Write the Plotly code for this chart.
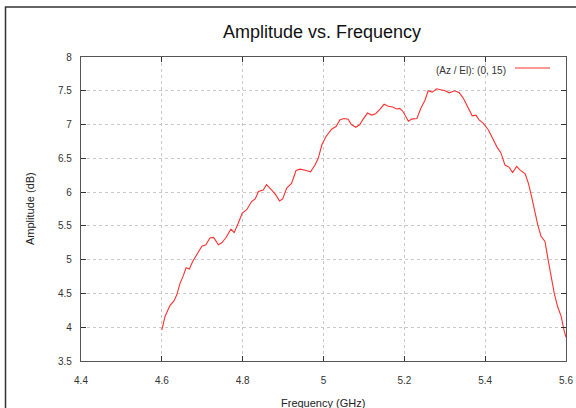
import plotly.graph_objects as go

freq_ghz = [4.600, 4.608, 4.620, 4.630, 4.637, 4.645, 4.653, 4.660, 4.668, 4.676,
            4.686, 4.699, 4.709, 4.719, 4.728, 4.740, 4.748, 4.758, 4.771, 4.779,
            4.789, 4.799, 4.810, 4.822, 4.831, 4.839, 4.851, 4.859, 4.872, 4.882,
            4.891, 4.899, 4.909, 4.921, 4.932, 4.942, 4.957, 4.968, 4.979, 4.987,
            4.996, 5.006, 5.020, 5.031, 5.041, 5.051, 5.061, 5.069, 5.080, 5.090,
            5.098, 5.109, 5.119, 5.129, 5.140, 5.150, 5.160, 5.171, 5.181, 5.189,
            5.197, 5.210, 5.218, 5.231, 5.241, 5.251, 5.259, 5.269, 5.280, 5.292,
            5.301, 5.311, 5.325, 5.336, 5.346, 5.356, 5.368, 5.377, 5.385, 5.395,
            5.408, 5.418, 5.429, 5.439, 5.449, 5.459, 5.468, 5.478, 5.486, 5.499,
            5.507, 5.515, 5.523, 5.530, 5.538, 5.548, 5.556, 5.564, 5.571, 5.579,
            5.588, 5.595, 5.600]
amplitude_db = [3.96, 4.16, 4.32, 4.39, 4.48, 4.65, 4.76, 4.88, 4.86, 4.97,
                5.07, 5.20, 5.22, 5.32, 5.33, 5.22, 5.25, 5.32, 5.45, 5.40,
                5.54, 5.69, 5.74, 5.86, 5.90, 6.01, 6.03, 6.11, 6.03, 5.96,
                5.87, 5.90, 6.06, 6.13, 6.32, 6.34, 6.32, 6.30, 6.40, 6.50,
                6.70, 6.82, 6.93, 6.97, 7.07, 7.09, 7.08, 7.00, 6.96, 7.00,
                7.08, 7.17, 7.14, 7.16, 7.23, 7.30, 7.27, 7.26, 7.23, 7.24,
                7.19, 7.05, 7.08, 7.09, 7.24, 7.36, 7.50, 7.48, 7.53, 7.51,
                7.50, 7.47, 7.50, 7.47, 7.39, 7.27, 7.13, 7.14, 7.07, 7.02,
                6.92, 6.80, 6.67, 6.58, 6.40, 6.37, 6.29, 6.38, 6.33, 6.27,
                6.13, 5.93, 5.71, 5.52, 5.35, 5.27, 4.99, 4.73, 4.50, 4.31,
                4.16, 3.96, 3.85]

series_name = "(Az / El): (0, 15)"
title_text = "Amplitude vs. Frequency"
x_title = "Frequency (GHz)"
y_title = "Amplitude (dB)"
x_ticks = [4.4, 4.6, 4.8, 5.0, 5.2, 5.4, 5.6]
x_ticklabels = ["4.4", "4.6", "4.8", "5", "5.2", "5.4", "5.6"]
y_ticks = [3.5, 4, 4.5, 5, 5.5, 6, 6.5, 7, 7.5, 8]
y_ticklabels = ["3.5", "4", "4.5", "5", "5.5", "6", "6.5", "7", "7.5", "8"]

W, H = 576, 408
L, R, T, B = 81, 10, 57, 47
pw, ph = W - L - R, H - T - B

def px(xp):
    return (xp - L) / pw

def py(yp):
    return (H - B - yp) / ph

FONT = "Liberation Sans, Arial, sans-serif"
line_red = "#ff3030"

fig = go.Figure()
fig.add_trace(go.Scatter(x=freq_ghz, y=amplitude_db, mode="lines",
                         line=dict(color=line_red, width=1.1),
                         name=series_name, showlegend=False))

axis_common = dict(
    automargin=False,
    showline=True, linecolor="#555555", linewidth=1.2, mirror="ticks",
    ticks="inside", ticklen=5, tickcolor="#333333", tickwidth=1,
    showgrid=True, gridcolor="#c8c8c8", gridwidth=1, griddash="3px,3px",
    zeroline=False, tickfont=dict(family=FONT, size=10, color="#333333"),
)

fig.update_xaxes(range=[4.4, 5.6], tickvals=x_ticks, ticktext=x_ticklabels,
                 ticklabelstandoff=10, **axis_common)
fig.update_yaxes(range=[3.5, 8], tickvals=y_ticks, ticktext=y_ticklabels,
                 ticklabelstandoff=6, **axis_common)

fig.update_layout(
    width=W, height=H, autosize=False,
    margin=dict(l=L, r=R, t=T, b=B, pad=0, autoexpand=False),
    paper_bgcolor="white", plot_bgcolor="white",
    title=dict(text=title_text, x=px(322), xanchor="center", xref="paper",
               y=1 - 32 / H, yref="container", yanchor="middle",
               font=dict(family=FONT, size=18, color="#111111")),
    showlegend=False,
)

# axis titles
fig.add_annotation(text=x_title, xref="paper", yref="paper", x=px(323), y=py(403),
                   xanchor="center", yanchor="middle", showarrow=False,
                   font=dict(family=FONT, size=11, color="#222222"))
fig.add_annotation(text=y_title, xref="paper", yref="paper", x=px(30), y=py(209),
                   xanchor="center", yanchor="middle", showarrow=False, textangle=-90,
                   font=dict(family=FONT, size=11, color="#222222"))

# legend (text left, line sample right)
fig.add_annotation(text=series_name, xref="paper", yref="paper", x=px(508), y=py(70),
                   xanchor="right", yanchor="middle", showarrow=False,
                   font=dict(family=FONT, size=10, color="#333333"))
fig.add_shape(type="line", xref="paper", yref="paper", x0=px(515), x1=px(550),
              y0=py(68), y1=py(68), line=dict(color=line_red, width=1.1))

# outer frame
fig.add_shape(type="rect", xref="paper", yref="paper",
              x0=px(5.5), x1=px(600), y0=py(7), y1=py(440),
              line=dict(color="#333333", width=1.5), fillcolor="rgba(0,0,0,0)", layer="below")

fig.write_html("out.html",
               config={"responsive": False, "displayModeBar": False},
               post_script="document.body.style.margin='0';document.body.style.overflow='hidden';")
